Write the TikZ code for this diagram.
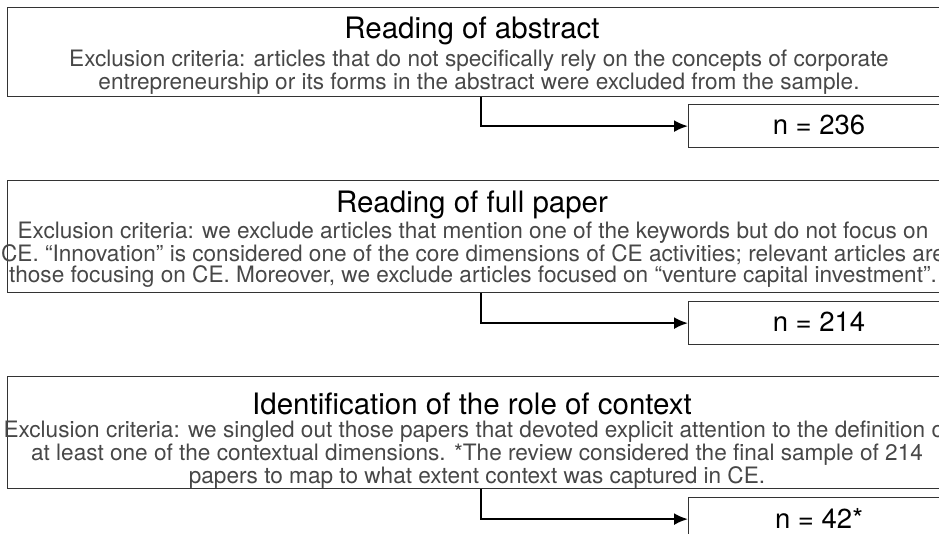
\documentclass[tikz,border=0pt]{standalone}
\usepackage{fontspec}
\setmainfont{TeX Gyre Heros}
\usetikzlibrary{arrows.meta}
\definecolor{bodygray}{gray}{0.28}
\definecolor{linegray}{gray}{0.2}
\tikzset{
  stagebox/.style={draw=linegray, line width=1.2pt, fill=none, inner sep=0pt, anchor=north west},
  countbox/.style={draw=linegray, line width=1.2pt, inner sep=0pt, anchor=north west, minimum width=260pt, minimum height=43pt},
  counttext/.style={font=\fontsize{27.5}{30}\selectfont, text=black, inner sep=0pt, anchor=center},
  titletext/.style={font=\fontsize{29.5}{31}\selectfont, text=black, inner sep=0pt, anchor=center},
  bodytext/.style={font=\fontsize{22.6}{19.4}\selectfont, text=bodygray, align=center, inner sep=0pt, anchor=north},
  conn/.style={draw=black, line width=2.2pt, -{Latex[length=14pt,width=12pt]}}
}
\begin{document}
\begin{tikzpicture}[x=1pt,y=-1pt]
\useasboundingbox (0,0) rectangle (939,533);
\clip (0,0) rectangle (939,533);
% stage boxes
\node[stagebox, minimum width=945pt, minimum height=89pt] (box1) at (7,7) {};
\node[stagebox, minimum width=945pt, minimum height=112pt] (box2) at (7,180) {};
\node[stagebox, minimum width=945pt, minimum height=112pt] (box3) at (7,376) {};
% titles
\node[titletext] (t1) at (472,31) {Reading of abstract};
\node[titletext] (t2) at (472,205) {Reading of full paper};
\node[titletext] (t3) at (472,404) {Identification of the role of context};
% bodies
\node[bodytext] (b1) at (479,50) {Exclusion criteria: articles that do not specifically rely on the concepts of corporate\\entrepreneurship or its forms in the abstract were excluded from the sample.};
\node[bodytext] (b2) at (473,222) {Exclusion criteria: we exclude articles that mention one of the keywords but do not focus on\\CE. “Innovation” is considered one of the core dimensions of CE activities; relevant articles are\\those focusing on CE. Moreover, we exclude articles focused on “venture capital investment”.};
\node[bodytext] (b3) at (477,421) {Exclusion criteria: we singled out those papers that devoted explicit attention to the definition of\\at least one of the contextual dimensions. *The review considered the final sample of 214\\papers to map to what extent context was captured in CE.};
% count boxes
\node[countbox] (n1) at (688,104) {};
\node[countbox] (n2) at (688,301) {};
\node[countbox] (n3) at (688,497) {};
\node[counttext] (c1) at (819,125) {n = 236};
\node[counttext] (c2) at (819,322) {n = 214};
\node[counttext] (c3) at (819,518) {n = 42*};
% connectors
\coordinate (j) at (481,0);
\draw[conn] (box1.south -| j) |- (n1.west);
\draw[conn] (box2.south -| j) |- (n2.west);
\draw[conn] (box3.south -| j) |- (n3.west);
\end{tikzpicture}
\end{document}
